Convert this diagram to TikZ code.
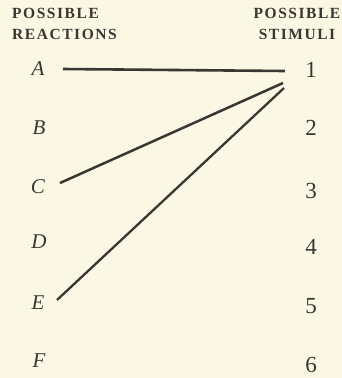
\documentclass[tikz,border=0pt]{standalone}
\usepackage{fontspec}
\setmainfont{Liberation Serif}
\definecolor{paper}{HTML}{FAF8E4}
\definecolor{ink}{HTML}{3A3631}
\tikzset{
  head/.style={text=ink, font=\fontsize{15.5}{21}\selectfont\bfseries\addfontfeature{LetterSpace=10}, inner sep=0pt},
  reac/.style={text=ink, font=\fontsize{21}{22}\selectfont\itshape, inner sep=1pt},
  stim/.style={text=ink, font=\fontsize{23}{24}\selectfont, inner sep=1pt},
  link/.style={draw=ink, line width=2.6pt}
}
\begin{document}
\begin{tikzpicture}[x=1pt, y=-1pt]
\fill[paper] (0,0) rectangle (342,378);
\useasboundingbox (0,0) rectangle (342,378);

\node[head, anchor=north west, align=left] (hl) at (12,8) {POSSIBLE\\REACTIONS};
\node[head, anchor=north, align=center] (hr) at (297,8) {POSSIBLE\\STIMULI};

\node[reac] (a) at (38,69) {A};
\node[reac] (b) at (39,128) {B};
\node[reac] (c) at (38,187) {C};
\node[reac] (d) at (39,242) {D};
\node[reac] (e) at (38,303) {E};
\node[reac] (f) at (39,361) {F};

\node[stim] (s1) at (311,70) {1};
\node[stim] (s2) at (311,128) {2};
\node[stim] (s3) at (311,191) {3};
\node[stim] (s4) at (311,247) {4};
\node[stim] (s5) at (311,306) {5};
\node[stim] (s6) at (311,365) {6};

% connections
\draw[link] ([shift={(25,0)}]a.center) -- ([shift={(-26,1)}]s1.center);
\draw[link, line width=2.5pt] ([shift={(22,-4)}]c.center) -- ([shift={(-28,13)}]s1.center);
\draw[link, line width=2.3pt] ([shift={(19,-3)}]e.center) -- ([shift={(-27,18)}]s1.center);
\end{tikzpicture}
\end{document}
